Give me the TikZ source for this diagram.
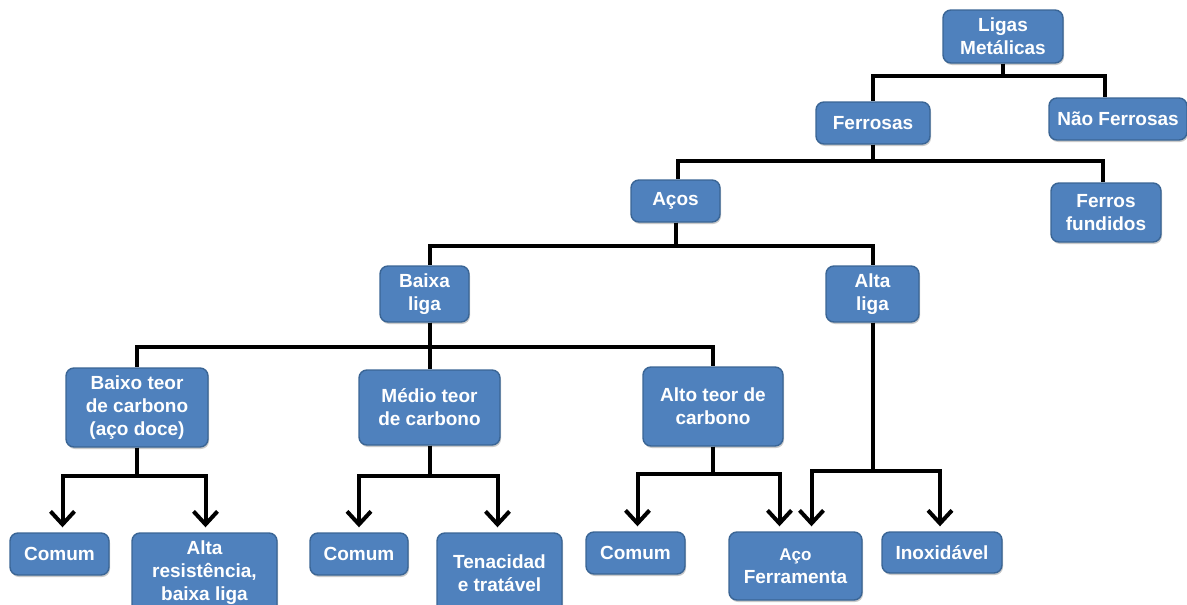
\documentclass[tikz,border=0pt]{standalone}
\usepackage{fontspec}
\setmainfont{Liberation Sans}
\usetikzlibrary{arrows.meta,shadows}
\definecolor{boxfill}{HTML}{4F81BD}
\definecolor{boxline}{HTML}{3A6595}
\begin{document}
\begin{tikzpicture}[x=1pt,y=-1pt,
  bx/.style={draw=boxline, line width=1.4pt, fill=boxfill, rounded corners=8pt,
    text=white, font=\bfseries\fontsize{19}{23}\selectfont, align=center, inner sep=0pt,
    drop shadow={shadow xshift=1pt, shadow yshift=-2pt, opacity=0.35, fill=black!60}},
  ln/.style={line width=4pt, line join=miter},
  arw/.style={line width=4pt, line join=miter, -{Straight Barb[length=13pt,width=24pt]}}]
\useasboundingbox (0,0) rectangle (1187,605);
\clip (0,0) rectangle (1187,605);
% nodes
\node[bx, minimum width=120pt, minimum height=53pt] (lig) at (1003,36.5) {Ligas\\Metálicas};
\node[bx, minimum width=114pt, minimum height=42pt] (fer) at (873,123) {Ferrosas};
\node[bx, minimum width=138pt, minimum height=42pt] (nf) at (1118,119) {Não Ferrosas};
\node[bx, minimum width=110pt, minimum height=59pt] (ff) at (1106,212.5) {Ferros\\fundidos};
\node[bx, minimum width=89pt, minimum height=42pt] (aco) at (675.5,201) {Aços};
\node[bx, minimum width=89pt, minimum height=56pt] (bl) at (424.5,294) {Baixa\\liga};
\node[bx, minimum width=93pt, minimum height=56pt] (al) at (872.5,294) {Alta\\liga};
\node[bx, minimum width=142pt, minimum height=79pt] (bt) at (137,407.5) {Baixo teor\\de carbono\\(aço doce)};
\node[bx, minimum width=141pt, minimum height=75pt] (mt) at (429.5,407.5) {Médio teor\\de carbono};
\node[bx, minimum width=140pt, minimum height=79pt] (at) at (713,406.5) {Alto teor de\\carbono};
\node[bx, minimum width=99pt, minimum height=42pt] (c1) at (59.5,554) {Comum};
\node[bx, minimum width=145pt, minimum height=80pt] (ar) at (204.5,573) {Alta\\resistência,\\baixa liga};
\node[bx, minimum width=98pt, minimum height=42pt] (c2) at (359,554) {Comum};
\node[bx, minimum width=125pt, minimum height=80pt] (ten) at (499.5,573) {Tenacidad\\e tratável};
\node[bx, minimum width=99pt, minimum height=42pt] (c3) at (635.5,553) {Comum};
\node[bx, minimum width=133pt, minimum height=68pt] (af) at (795.5,566) {{\fontsize{17}{23}\selectfont Aço}\\Ferramenta};
\node[bx, minimum width=120pt, minimum height=41pt] (inox) at (942,552.5) {Inoxidável};
% connectors
\draw[ln] (lig.south) -- ++(0,12) -| (fer.north);
\draw[ln] (lig.south) -- ++(0,12) -| ([xshift=-13pt]nf.north);
\draw[ln] (fer.south) -- ++(0,16) -| ([xshift=2pt]aco.north);
\draw[ln] (fer.south) -- ++(0,16) -| ([xshift=-3pt]ff.north);
\draw[ln] (aco.south) -- ++(0,23) -| ([xshift=5pt]bl.north);
\draw[ln] (aco.south) -- ++(0,23) -| (al.north);
\draw[ln] ([xshift=5pt]bl.south) -- ++(0,24) -| (bt.north);
\draw[ln] ([xshift=5pt]bl.south) -- ++(0,24) -| (mt.north);
\draw[ln] ([xshift=5pt]bl.south) -- ++(0,24) -| (at.north);
\draw[arw] (bt.south) -- ++(0,28) -| ([xshift=3pt,yshift=5pt]c1.north);
\draw[arw] (bt.south) -- ++(0,28) -| ([xshift=1pt,yshift=5pt]ar.north);
\draw[arw] (mt.south) -- ++(0,30) -| ([yshift=5pt]c2.north);
\draw[arw] (mt.south) -- ++(0,30) -| ([xshift=-2pt,yshift=5pt]ten.north);
\draw[arw] (at.south) -- ++(0,27) -| ([xshift=2pt,yshift=5pt]c3.north);
\draw[arw] (at.south) -- ++(0,27) -| ([xshift=-16pt,yshift=5pt]af.north);
\draw[arw] (al.south) -- ++(0,148) -| ([xshift=16pt,yshift=5pt]af.north);
\draw[arw] (al.south) -- ++(0,148) -| ([xshift=-2pt,yshift=5pt]inox.north);
\end{tikzpicture}
\end{document}
